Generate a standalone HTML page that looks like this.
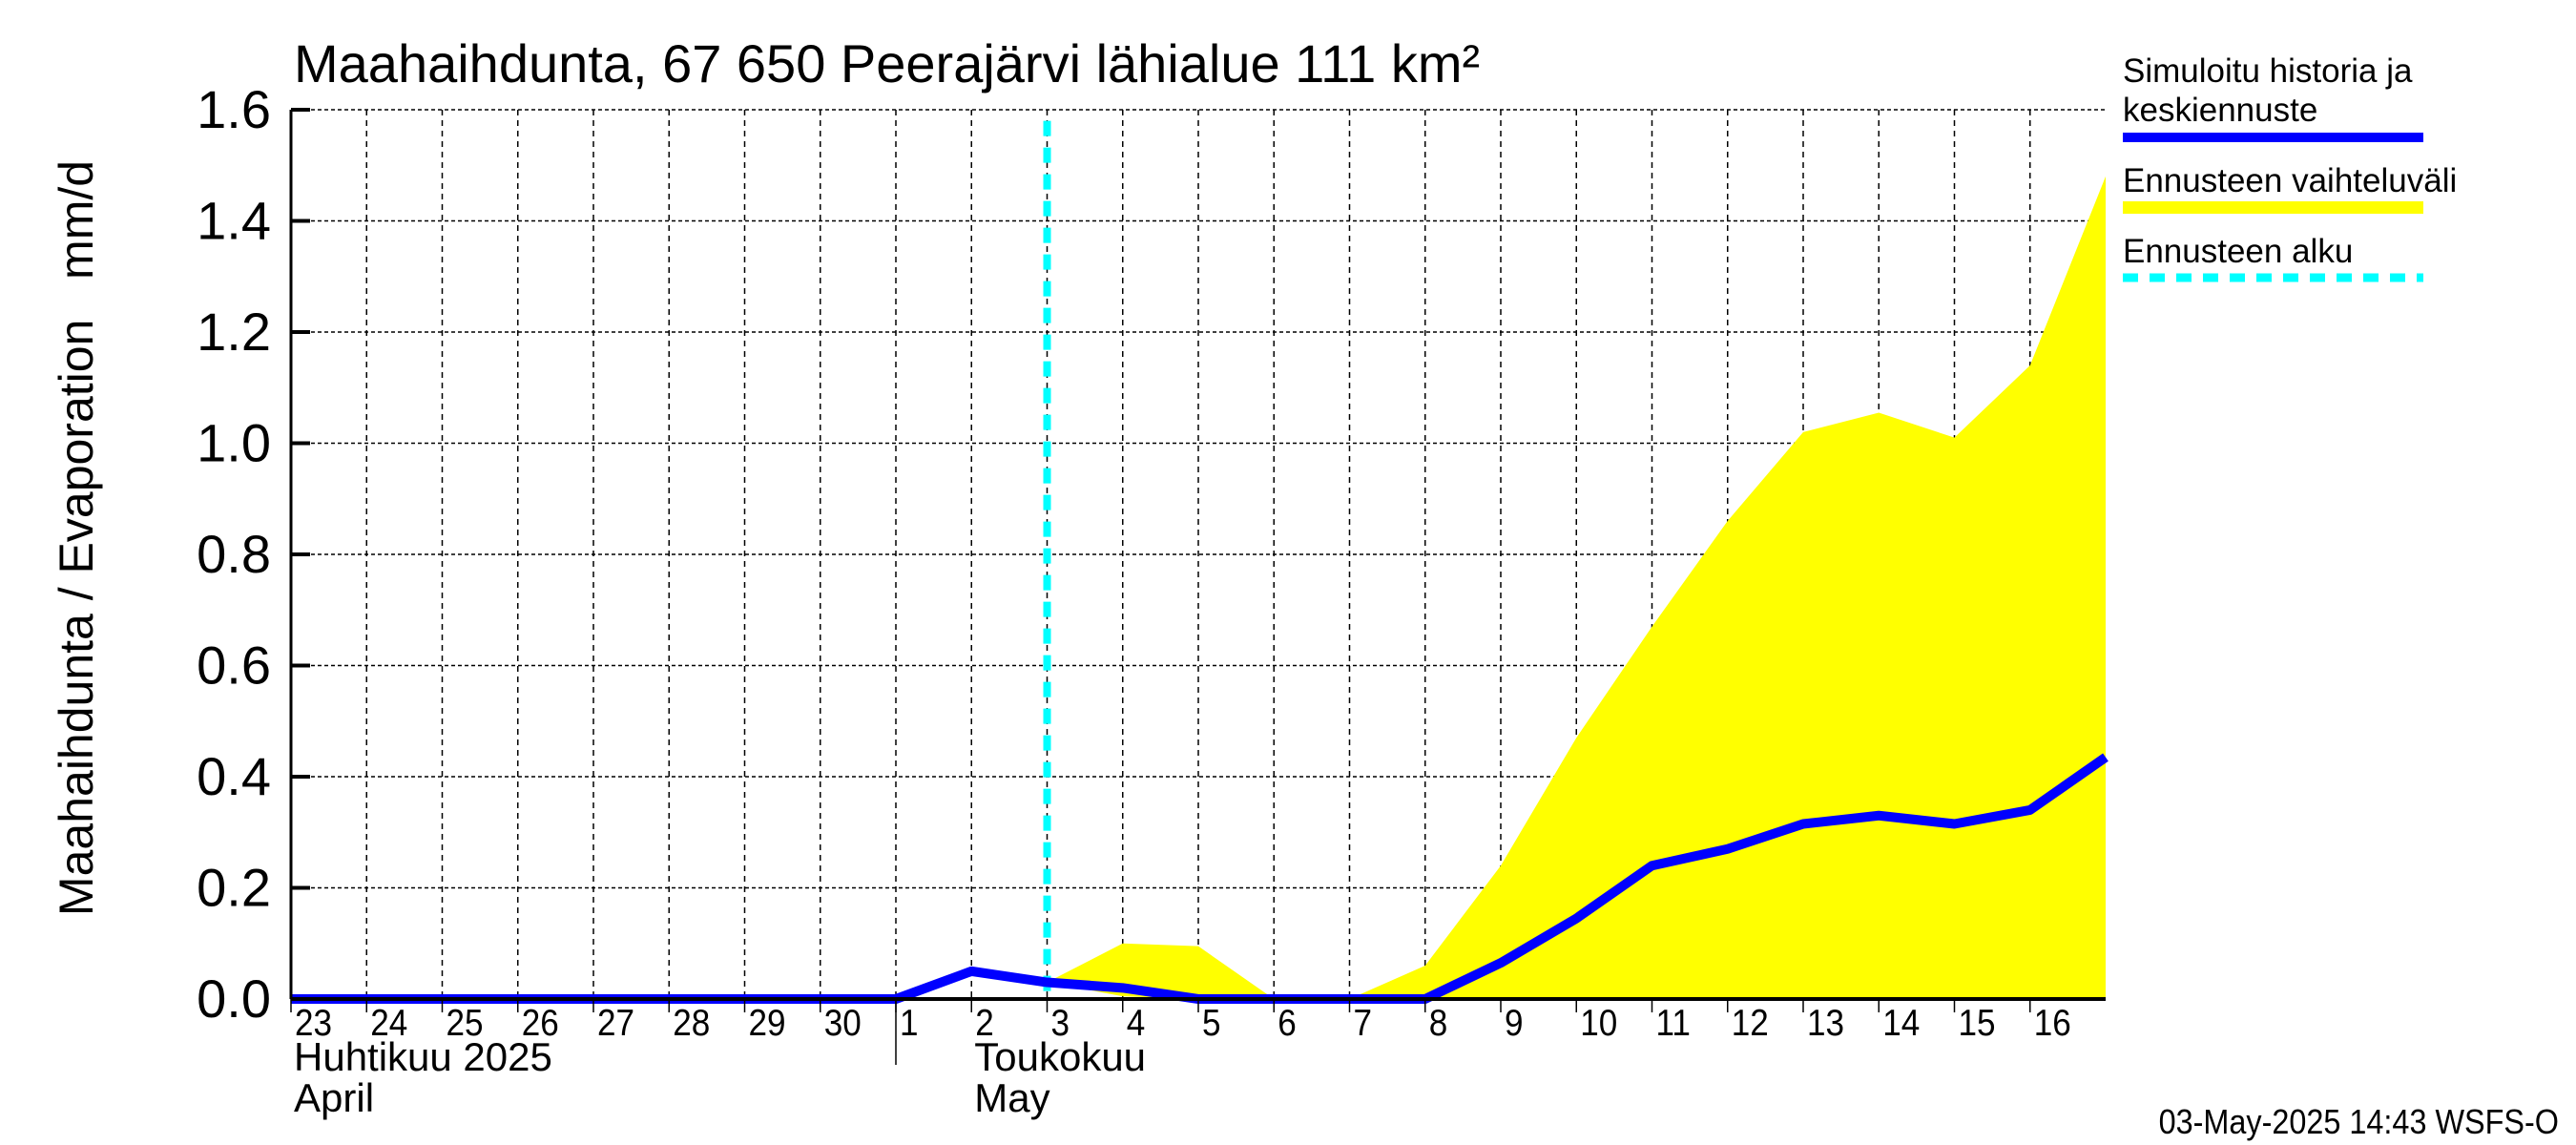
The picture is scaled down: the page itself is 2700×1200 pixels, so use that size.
<!DOCTYPE html>
<html><head><meta charset="utf-8"><style>
body{margin:0;background:#fff}
svg{display:block;font-family:"Liberation Sans",sans-serif}
</style></head><body>
<svg id="chart" width="2700" height="1200" viewBox="0 0 2700 1200" xmlns="http://www.w3.org/2000/svg">
<rect width="2700" height="1200" fill="#fff"/>
<g id="grid"></g>
<g id="series"></g>
<g id="axes"></g>
<text x="308" y="86" font-size="56">Maahaihdunta, 67 650 Peerajärvi lähialue 111 km²</text>
<text transform="translate(97 564) rotate(-90)" text-anchor="middle" font-size="50" xml:space="preserve">Maahaihdunta / Evaporation   mm/d</text>
<g>
<text x="2225" y="86" font-size="35">Simuloitu historia ja</text>
<text x="2225" y="127" font-size="35">keskiennuste</text>
<rect x="2225" y="139" width="315" height="10" fill="#0000ff"/>
<text x="2225" y="201" font-size="35">Ennusteen vaihteluväli</text>
<rect x="2225" y="211" width="315" height="13" fill="#ffff00"/>
<text x="2225" y="275" font-size="35">Ennusteen alku</text>
<line x1="2225" y1="291" x2="2540" y2="291" stroke="#00ffff" stroke-width="9" stroke-dasharray="16 12"/>
</g>
<text x="2682" y="1188" font-size="36" text-anchor="end" transform="translate(2682 0) scale(0.9 1) translate(-2682 0)">03-May-2025 14:43 WSFS-O</text>
</svg>
<script>
const dayLabels=["23","24","25","26","27","28","29","30","1","2","3","4","5","6","7","8","9","10","11","12","13","14","15","16"];
const yTicks=[0,0.2,0.4,0.6,0.8,1.0,1.2,1.4,1.6];
const simDays=[0,1,2,3,4,5,6,7,8,9,10,11,12,13,14,15,16,17,18,19,20,21,22,23,24];
const simValues=[0,0,0,0,0,0,0,0,0,0.05,0.03,0.02,0,0,0,0,0.065,0.145,0.24,0.27,0.315,0.33,0.315,0.34,0.435];
const rangeDays=[10,11,12,13,14,15,16,17,18,19,20,21,22,23,24];
const rangeUpper=[0.03,0.10,0.095,0,0,0.06,0.24,0.47,0.67,0.86,1.02,1.055,1.01,1.14,1.48];
const rangeLower=[0.03,0.005,0,0,0,0,0,0,0,0,0,0,0,0,0];
const forecastStartDay=10;
const L=305,R=2207,T=115,B=1047,NDAYS=24,YMAX=1.6;
const x=d=>L+(R-L)*d/NDAYS;
const y=v=>B-(B-T)*v/YMAX;
const NS="http://www.w3.org/2000/svg";
function mk(tag,attrs,parent){const e=document.createElementNS(NS,tag);for(const k in attrs)e.setAttribute(k,attrs[k]);parent.appendChild(e);return e;}
const grid=document.getElementById('grid'),series=document.getElementById('series'),axes=document.getElementById('axes');
dayLabels.forEach((lab,i)=>{
  if(i>0){const g=mk('line',{x1:x(i),y1:T,x2:x(i),y2:B,stroke:'#000','stroke-width':1.5,'stroke-dasharray':'6 5'},grid);
  
  }
  const t=mk('text',{x:x(i)+4,y:1085,'font-size':39,transform:`translate(${x(i)+4} 0) scale(0.9 1) translate(${-(x(i)+4)} 0)`},axes);
  t.textContent=lab;
  
  
  const tk=mk('line',{x1:x(i),y1:B,x2:x(i),y2:B+14,stroke:'#000','stroke-width':1.5},axes);
  
  
});
yTicks.forEach(v=>{
  if(v>0){const g=mk('line',{x1:L,y1:y(v),x2:R,y2:y(v),stroke:'#000','stroke-width':1.5,'stroke-dasharray':'4 3'},grid);
  
  }
  const tk=mk('line',{x1:L,y1:y(v),x2:L+20,y2:y(v),stroke:'#000','stroke-width':4},axes);
  
  
  const t=mk('text',{x:284,y:y(v)+19,'font-size':56,'text-anchor':'end'},axes);
  t.textContent=v.toFixed(1);
  
  
});
let pts=rangeDays.map((d,i)=>x(d)+','+y(rangeUpper[i]));
for(let i=rangeDays.length-1;i>=0;i--)pts.push(x(rangeDays[i])+','+y(rangeLower[i]));
const band=mk('polygon',{points:pts.join(' '),fill:'#ffff00'},series);


const fl=mk('line',{x1:x(forecastStartDay),y1:y(1.58),x2:x(forecastStartDay),y2:B,stroke:'#00ffff','stroke-width':8,'stroke-dasharray':'16 12'},series);


const bl=mk('line',{x1:L,y1:B,x2:R,y2:B,stroke:'#000','stroke-width':4},axes);


const yl=mk('line',{x1:L,y1:T,x2:L,y2:B,stroke:'#000','stroke-width':3},axes);


const sim=mk('polyline',{points:simDays.map((d,i)=>x(d)+','+y(simValues[i])).join(' '),fill:'none',stroke:'#0000ff','stroke-width':10,'stroke-linejoin':'round'},series);


const sep=mk('line',{x1:x(8),y1:B,x2:x(8),y2:1116,stroke:'#000','stroke-width':1.5},axes);


[["Huhtikuu  2025",x(0)+3,1122,'month-label-april-fi'],["April",x(0)+3,1165,'month-label-april-en'],["Toukokuu",x(9)+3,1122,'month-label-may-fi'],["May",x(9)+3,1165,'month-label-may-en']].forEach(m=>{
  const t=mk('text',{x:m[1],y:m[2],'font-size':42,'xml:space':'preserve'},axes);
  t.textContent=m[0];
  
  
});
</script>
</body></html>
